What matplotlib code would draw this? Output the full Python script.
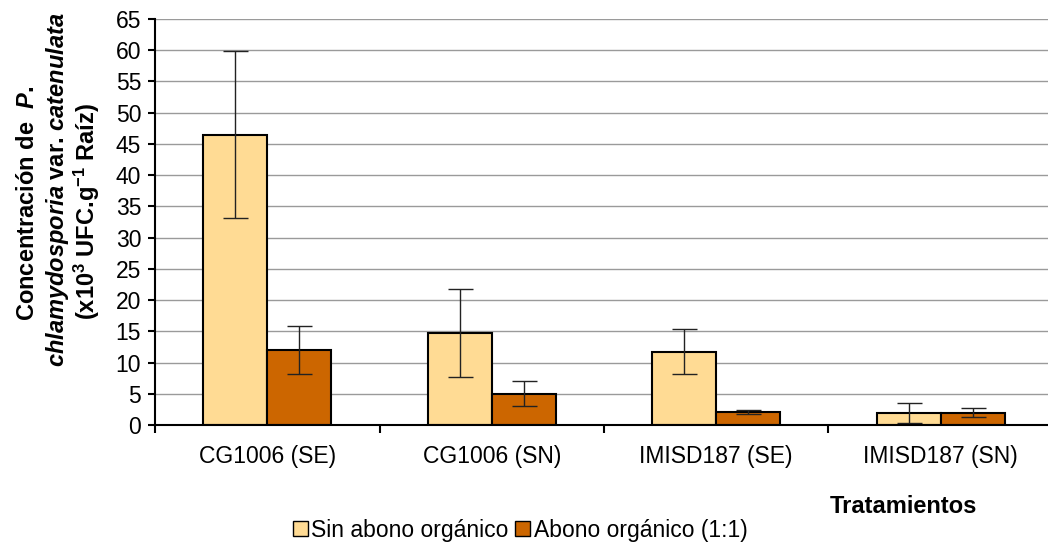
import matplotlib
matplotlib.use("Agg")
import matplotlib.pyplot as plt
from matplotlib.patches import Patch
import numpy as np

# Data
categories = ["CG1006 (SE)", "CG1006 (SN)", "IMISD187 (SE)", "IMISD187 (SN)"]
series_names = ["Sin abono orgánico", "Abono orgánico (1:1)"]
sin_abono = [46.5, 14.7, 11.7, 2.0]
sin_abono_err = [13.3, 7.0, 3.6, 1.6]
con_abono = [12.0, 5.0, 2.1, 2.0]
con_abono_err = [3.9, 2.0, 0.3, 0.7]
yticks = list(range(0, 70, 5))

colors = ["#FFDB94", "#CC6600"]

plt.rcParams["font.family"] = ["Liberation Sans", "DejaVu Sans"]
plt.rcParams["mathtext.fontset"] = "custom"
plt.rcParams["mathtext.rm"] = "Liberation Sans:bold"
plt.rcParams["mathtext.bf"] = "Liberation Sans:bold"
plt.rcParams["mathtext.it"] = "Liberation Sans:italic:bold"
plt.rcParams["mathtext.default"] = "rm"

W, H = 1048, 544
fs = 16.5
fig = plt.figure(figsize=(W / 100, H / 100), dpi=100)
ax = fig.add_axes([155 / W, 1 - 425 / H, 898 / W, 406 / H])

x = np.arange(len(categories))
bw = 0.285
err_kw = dict(ecolor="#222222", elinewidth=1.0, capsize=9, capthick=1.0)
ax.bar(x - bw / 2, sin_abono, bw, color=colors[0], edgecolor="black",
       linewidth=1.5, yerr=sin_abono_err, error_kw=err_kw, zorder=3)
ax.bar(x + bw / 2, con_abono, bw, color=colors[1], edgecolor="black",
       linewidth=1.5, yerr=con_abono_err, error_kw=err_kw, zorder=3)

ax.set_xlim(-0.5, len(categories) - 0.5)
ax.set_ylim(0, 65)
ax.set_yticks(yticks)
ax.yaxis.grid(True, color="#9a9a9a", linewidth=1.0, zorder=0)
ax.set_axisbelow(True)

ax.set_xticks(x)
ax.set_xticklabels(categories, fontsize=fs)
ax.set_xticks(np.arange(-0.5, len(categories)), minor=True)
ax.tick_params(axis="x", which="major", length=0, pad=14.5)
ax.tick_params(axis="x", which="minor", length=6, width=1.5, direction="out")
ax.tick_params(axis="y", labelsize=fs, length=5, width=1.5, direction="out", pad=5)

for s in ["top", "right"]:
    ax.spines[s].set_visible(False)
for s in ["left", "bottom"]:
    ax.spines[s].set_linewidth(1.5)
    ax.spines[s].set_zorder(4)


def ytitle(xpix, ypix, txt):
    fig.text(xpix / W, 1 - ypix / H, txt, rotation=90, rotation_mode="anchor",
             ha="center", va="baseline", fontsize=17, fontweight="bold")


# Three-line vertical axis title (baseline x, centre y in pixels)
ytitle(34, 203, "Concentración de  $\\mathit{P.}$")
ytitle(64, 190, "$\\mathit{chlamydosporia}$ var. $\\mathit{catenulata}$")
ytitle(95, 211, "(x10$^{3}$ UFC.g$^{-1}$ Raíz)")

fig.text(903 / W, 1 - 513 / H, "Tratamientos", ha="center", va="baseline",
         fontsize=17, fontweight="bold")

handles = [Patch(facecolor=c, edgecolor="black", linewidth=1.0) for c in colors]
fig.legend(handles, series_names, loc="center", bbox_to_anchor=(520 / W, 1 - 530 / H),
           ncol=2, frameon=False, fontsize=fs, handlelength=0.65, handleheight=0.65,
           handletextpad=0.15, columnspacing=0.3, borderpad=0)

fig.savefig("out.png", dpi=100)
